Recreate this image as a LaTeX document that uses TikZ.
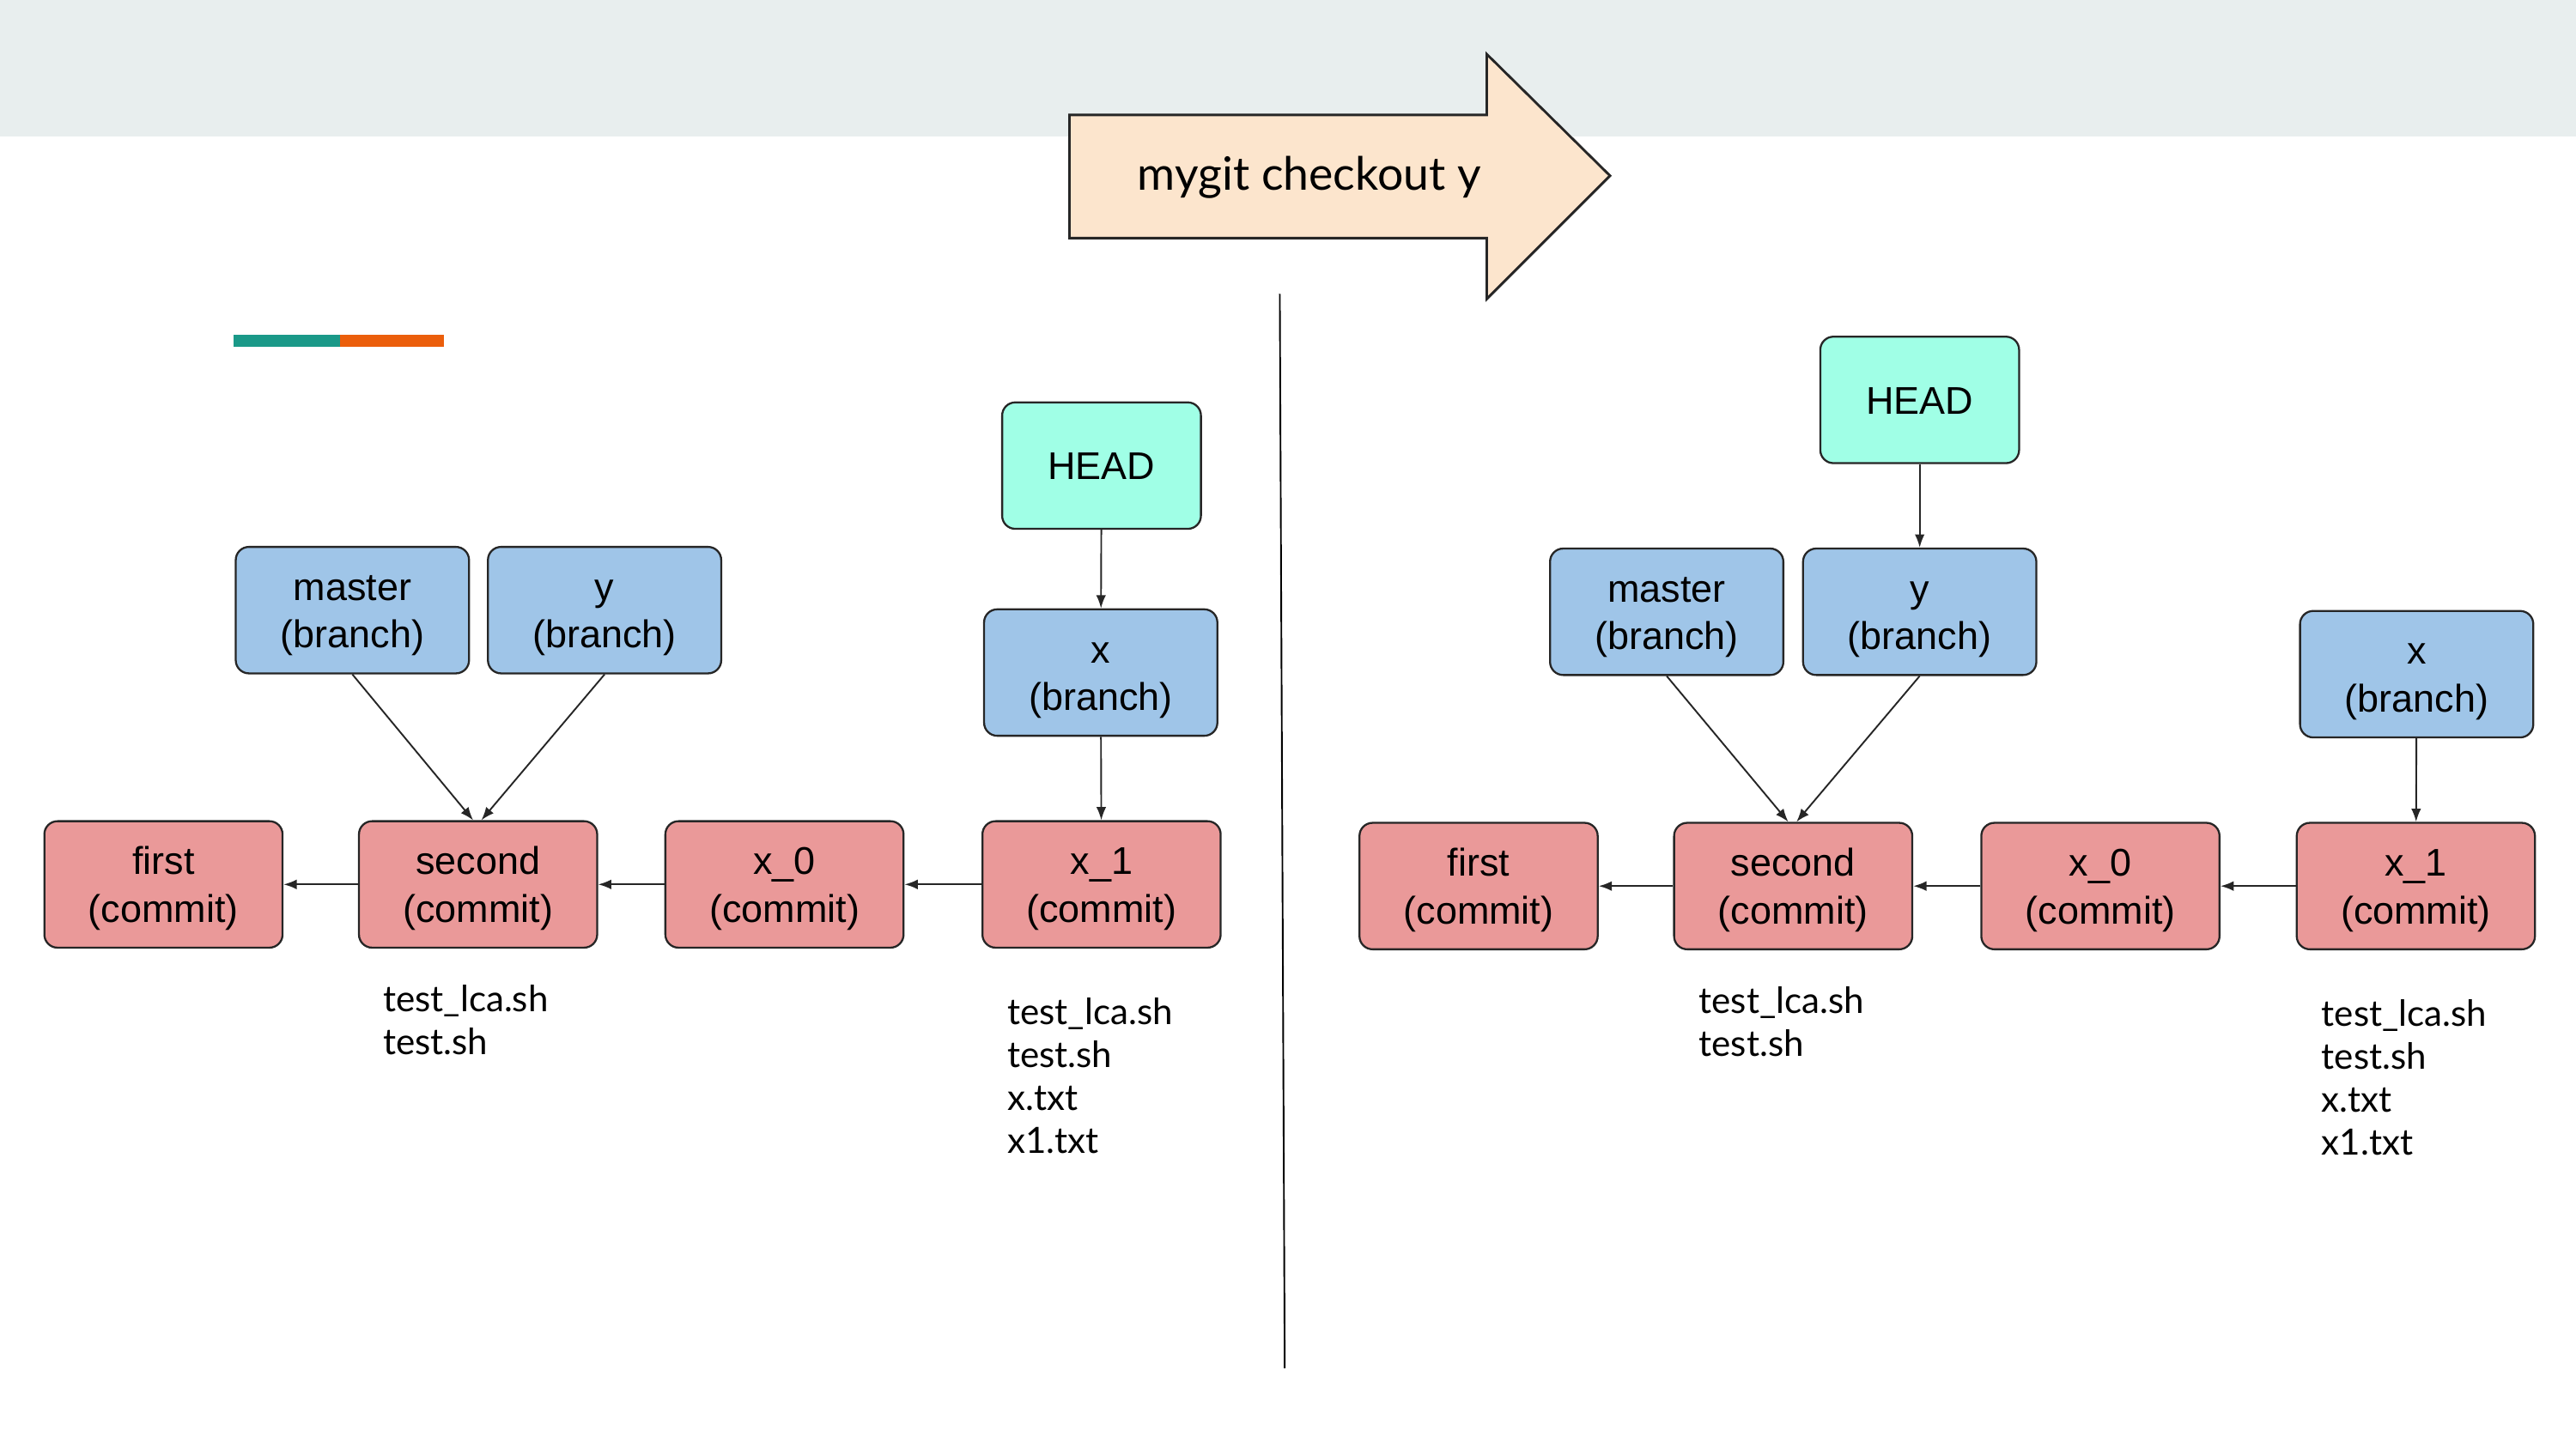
\documentclass[tikz,border=0pt]{standalone}
\usepackage{fontspec}
\setmainfont{Liberation Sans}
\newfontfamily\latofont{Lato}
\usetikzlibrary{arrows.meta,positioning}
\definecolor{bandgray}{RGB}{232,238,238}
\definecolor{cmdpeach}{RGB}{252,229,205}
\definecolor{headmint}{RGB}{160,255,230}
\definecolor{branchblue}{RGB}{159,197,232}
\definecolor{commitred}{RGB}{234,153,153}
\definecolor{barteal}{RGB}{26,153,136}
\definecolor{barorange}{RGB}{235,94,11}
\newcommand\boxstrut{\rule[-6pt]{0pt}{29pt}}
\newcommand\twoline[2]{\boxstrut#1\\\boxstrut#2}

\begin{document}
\begin{tikzpicture}[x=1pt,y=-1pt,
    box/.style={draw=black!85, line width=1.2pt, rounded corners=8pt, minimum height=77pt,
      inner sep=0pt, align=center, font=\fontsize{23.5}{29}\selectfont},
    commit/.style={box, fill=commitred, minimum width=145pt},
    branch/.style={box, fill=branchblue, minimum width=142pt},
    head/.style={box, fill=headmint, minimum width=121pt},
    files/.style={anchor=base west, align=left, inner sep=0pt, font=\latofont\fontsize{22}{26}\selectfont},
    ptr/.style={-{Latex[length=8pt,width=6pt]}, line width=1pt, draw=black!85}]
  \useasboundingbox (0,0) rectangle (1568,882);
  \fill[bandgray] (0,0) rectangle (1568,83);
  \fill[barteal] (142,204) rectangle (207,211);
  \fill[barorange] (207,204) rectangle (270,211);
  % command arrow
  \draw[fill=cmdpeach, line width=1.5pt, draw=black!85] (651,70) -- (905,70) -- (905,33) -- (980,107)
    -- (905,182) -- (905,145) -- (651,145) -- cycle;
  \node[font=\latofont\fontsize{28}{34}\selectfont] (cmd) at (797,108) {mygit checkout y};
  \draw[line width=1pt] (779,179) -- (782,833);
  % before
  \node[head] (lhead) at (670.5,283.5) {\boxstrut HEAD};
  \node[branch] (lmaster) at (214.5,371.5) {\twoline{master}{(branch)}};
  \node[branch] (ly) at (368,371.5) {\twoline{y}{(branch)}};
  \node[branch] (lx) at (670,409.5) {\twoline{x}{(branch)}};
  \node[commit] (lfirst) at (99.5,538.5) {\twoline{first}{(commit)}};
  \node[commit] (lsecond) at (291,538.5) {\twoline{second}{(commit)}};
  \node[commit] (lx0) at (477.5,538.5) {\twoline{x\_0}{(commit)}};
  \node[commit] (lx1) at (670.5,538.5) {\twoline{x\_1}{(commit)}};
  \node[files] (lfiles2) at (233,642) {test\_lca.sh\\test.sh};
  \node[files] (lfiles4) at (613,702) {test\_lca.sh\\test.sh\\x.txt\\x1.txt};
  \draw[ptr] (lhead) -- (lx);
  \draw[ptr] (lx) -- (lx1);
  \draw[ptr] (lmaster.south) -- ([xshift=-3pt]lsecond.north);
  \draw[ptr] (ly.south) -- ([xshift=2pt]lsecond.north);
  \draw[ptr] (lx1) -- (lx0);
  \draw[ptr] (lx0) -- (lsecond);
  \draw[ptr] (lsecond) -- (lfirst);
  % after
  \node[head] (rhead) at (1168.5,243.5) {\boxstrut HEAD};
  \node[branch] (rmaster) at (1014.5,372.5) {\twoline{master}{(branch)}};
  \node[branch] (ry) at (1168.5,372.5) {\twoline{y}{(branch)}};
  \node[branch] (rx) at (1471,410.5) {\twoline{x}{(branch)}};
  \node[commit] (rfirst) at (900,539.5) {\twoline{first}{(commit)}};
  \node[commit] (rsecond) at (1091.5,539.5) {\twoline{second}{(commit)}};
  \node[commit] (rx0) at (1278.5,539.5) {\twoline{x\_0}{(commit)}};
  \node[commit] (rx1) at (1470.5,539.5) {\twoline{x\_1}{(commit)}};
  \node[files] (rfiles2) at (1034,643) {test\_lca.sh\\test.sh};
  \node[files] (rfiles4) at (1413,703) {test\_lca.sh\\test.sh\\x.txt\\x1.txt};
  \draw[ptr] (rhead) -- (ry);
  \draw[ptr] (rx) -- (rx1);
  \draw[ptr] (rmaster.south) -- ([xshift=-3pt]rsecond.north);
  \draw[ptr] (ry.south) -- ([xshift=2pt]rsecond.north);
  \draw[ptr] (rx1) -- (rx0);
  \draw[ptr] (rx0) -- (rsecond);
  \draw[ptr] (rsecond) -- (rfirst);
\end{tikzpicture}
\end{document}
